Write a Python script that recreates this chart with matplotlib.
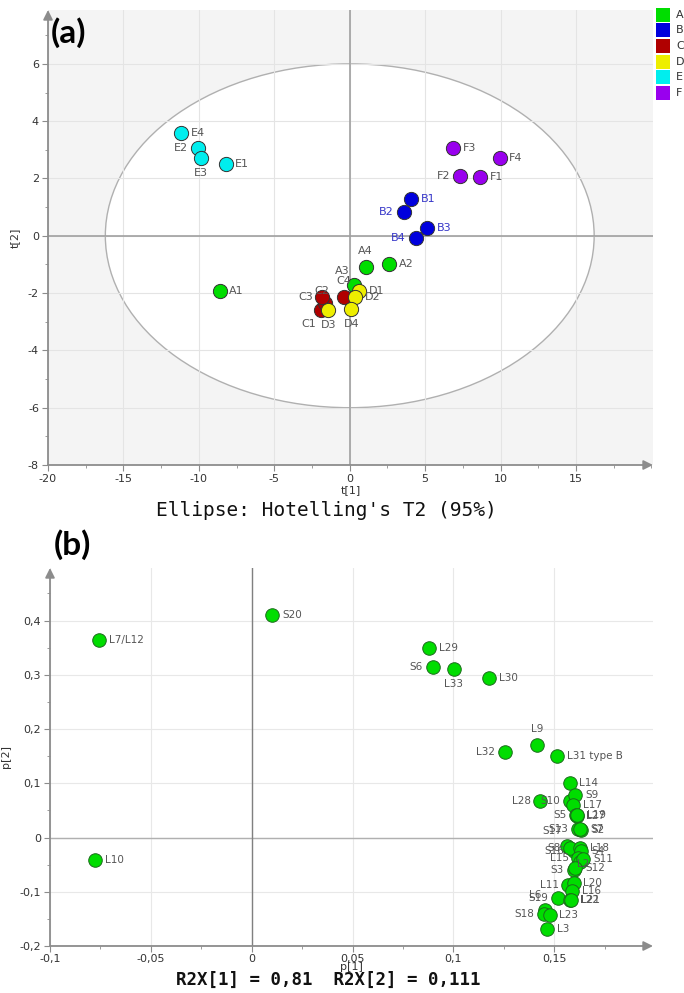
import matplotlib
matplotlib.use('Agg')
import matplotlib.pyplot as plt
from matplotlib.patches import Ellipse, Rectangle
from matplotlib.ticker import MultipleLocator, FuncFormatter, FixedLocator
import numpy as np

plt.rcParams['axes.unicode_minus'] = False
plt.rcParams['font.family'] = ['DejaVu Sans']

# ---------------- Panel (a): scores ----------------
groups = ['A', 'B', 'C', 'D', 'E', 'F']
group_colors = ['#00dd00', '#0000dd', '#b00000', '#eeee00', '#00eeee', '#9900ee']

score_labels = ['A1', 'A2', 'A3', 'A4',
                'B1', 'B2', 'B3', 'B4',
                'C1', 'C2', 'C3', 'C4',
                'D1', 'D2', 'D3', 'D4',
                'E1', 'E2', 'E3', 'E4',
                'F1', 'F2', 'F3', 'F4']
score_t1 = [-8.63, 2.61, 0.29, 1.06,
            4.05, 3.58, 5.15, 4.38,
            -1.88, -1.66, -1.81, -0.38,
            0.60, 0.33, -1.41, 0.11,
            -8.23, -10.09, -9.87, -11.17,
            8.63, 7.32, 6.86, 9.93]
score_t2 = [-1.92, -0.99, -1.73, -1.08,
            1.29, 0.84, 0.26, -0.07,
            -2.58, -2.35, -2.14, -2.14,
            -1.94, -2.14, -2.60, -2.56,
            2.49, 3.08, 2.70, 3.58,
            2.06, 2.08, 3.06, 2.73]

ellipse_a = 16.2   # Hotelling T2 95% semi-axes
ellipse_b = 6.0

t1_ticks = [-20, -15, -10, -5, 0, 5, 10, 15]
t2_ticks = [-8, -6, -4, -2, 0, 2, 4, 6]

# ---------------- Panel (b): loadings ----------------
loading_labels = ['L7/L12', 'S20', 'L29', 'S6', 'L33', 'L30', 'L32', 'L9', 'L31 type B',
                  'L14', 'L28', 'S10', 'S9', 'L17', 'S5', 'L27', 'L19',
                  'S13', 'S2', 'S7', 'S17', 'S16', 'S8', 'L18', 'S4',
                  'L15', 'L2', 'S11', 'S3', 'S12', 'L11', 'L20', 'L16',
                  'S19', 'L22', 'L21', 'L6', 'S18', 'L23', 'L3', 'L10']
loading_p1 = [-0.0756, 0.0102, 0.0880, 0.0898, 0.1002, 0.1176, 0.1257, 0.1414, 0.1513,
              0.1576, 0.1431, 0.1579, 0.1604, 0.1593, 0.1609, 0.1612, 0.1615,
              0.1620, 0.1634, 0.1630, 0.1563, 0.1596, 0.1580, 0.1629, 0.1634,
              0.1620, 0.1629, 0.1645, 0.1596, 0.1604, 0.1571, 0.1596, 0.1588,
              0.1521, 0.1579, 0.1585, 0.1455, 0.1450, 0.1477, 0.1464, -0.0776]
loading_p2 = [0.364, 0.411, 0.350, 0.314, 0.311, 0.295, 0.157, 0.171, 0.151,
              0.101, 0.068, 0.068, 0.078, 0.060, 0.041, 0.040, 0.042,
              0.0165, 0.0135, 0.015, -0.015, -0.025, -0.020, -0.019, -0.025,
              -0.037, -0.046, -0.040, -0.060, -0.057, -0.0875, -0.083, -0.0985,
              -0.112, -0.116, -0.115, -0.133, -0.141, -0.1437, -0.169, -0.041]

p1_ticks = [-0.1, -0.05, 0, 0.05, 0.1, 0.15]
p2_ticks = [-0.2, -0.1, 0, 0.1, 0.2, 0.3, 0.4]

# label placement (style only): offsets in points
place_a = {'E2': 'L', 'E3': 'B', 'F2': 'L', 'B2': 'L', 'B4': 'L', 'A4': 'T', 'A3': 'TL',
           'C4': 'T', 'C2': 'TC', 'C3': 'L', 'C1': 'BL', 'D3': 'B', 'D4': 'B'}
place_b = {'S6': 'L', 'L33': 'B', 'L32': 'L', 'L9': 'T', 'L28': 'L', 'S10': 'L', 'S5': 'L',
           'S13': 'L', 'S17': 'TL', 'S16': 'L', 'S8': 'L', 'L15': 'L', 'S3': 'L',
           'L11': 'L', 'S19': 'L', 'L6': 'TL', 'S18': 'L', 'L2': 'C'}
offsets = {'R': (7, 0, 'left', 'center'), 'L': (-7, 0, 'right', 'center'),
           'T': (0, 8, 'center', 'bottom'), 'B': (0, -7, 'center', 'top'),
           'TL': (-3, 7, 'right', 'bottom'), 'BL': (-4, -7, 'right', 'top'),
           'TC': (-2, 5, 'center', 'bottom'), 'C': (2, -1, 'center', 'center')}

W, H = 684, 993
fig = plt.figure(figsize=(W / 100, H / 100), dpi=100)

tick_col = '#8c8c8c'
txt_col = '#333333'


def style_axes(ax):
    for s in ax.spines.values():
        s.set_visible(False)
    ax.tick_params(which='both', direction='out', color=tick_col, labelcolor=txt_col,
                   labelsize=8, top=False, right=False, pad=2.5)
    ax.tick_params(which='major', length=4)
    ax.tick_params(which='minor', length=2.5)
    for xy in [((0, 1), (0, 0)), ((1, 0), (0, 0))]:
        ax.annotate('', xy=xy[0], xytext=xy[1], xycoords='axes fraction',
                    arrowprops=dict(arrowstyle='-|>', color=tick_col, lw=1.3,
                                    mutation_scale=14, shrinkA=0, shrinkB=0),
                    annotation_clip=False, zorder=5)


# ---------- top axes ----------
ax1 = fig.add_axes([48 / W, 1 - 465 / H, (653 - 48) / W, (465 - 10) / H])
ax1.set_facecolor('#f4f4f4')
ax1.set_xlim(-20, 20.1)
ax1.set_ylim(-8, 7.88)
ax1.xaxis.set_major_locator(FixedLocator(t1_ticks))
ax1.xaxis.set_minor_locator(MultipleLocator(2.5))
ax1.yaxis.set_major_locator(FixedLocator(t2_ticks))
ax1.yaxis.set_minor_locator(MultipleLocator(1))
ax1.set_axisbelow(True)
ax1.grid(True, which='major', color='#e4e4e4', lw=0.8)
style_axes(ax1)
ell = Ellipse((0, 0), 2 * ellipse_a, 2 * ellipse_b, facecolor='white',
              edgecolor='#b0b0b0', lw=1.0, zorder=0.3)
ax1.add_patch(ell)
ax1.axhline(0, color='#a0a0a0', lw=1.2, zorder=1)
ax1.axvline(0, color='#a0a0a0', lw=1.2, zorder=1)
ax1.set_xlabel('t[1]', fontsize=8, color=txt_col, labelpad=1)
ax1.set_ylabel('t[2]', fontsize=8, color=txt_col, labelpad=6)

for lab, x, y in zip(score_labels, score_t1, score_t2):
    gi = groups.index(lab[0])
    c = group_colors[gi]
    ax1.scatter([x], [y], s=105, color=c, edgecolors='#333333', linewidths=0.7, zorder=3)
    dx, dy, ha, va = offsets[place_a.get(lab, 'R')]
    tc = '#3535c8' if lab[0] == 'B' else '#555555'
    ax1.annotate(lab, (x, y), xytext=(dx, dy), textcoords='offset points', ha=ha, va=va,
                 fontsize=8, color=tc, zorder=4)

ax1.text(0.005, 0.985, '(a)', transform=ax1.transAxes, fontsize=24, fontweight='bold',
         family='Lato', ha='left', va='top')

# legend
for i, (g, c) in enumerate(zip(groups, group_colors)):
    yc = 14.5 + i * 15.7
    fig.patches.append(Rectangle((656 / W, 1 - (yc + 7) / H), 14 / W, 14 / H,
                                 transform=fig.transFigure, facecolor=c, edgecolor='none'))
    fig.text(676 / W, 1 - yc / H, g, fontsize=8, color=txt_col, va='center', ha='left')

fig.text(326 / W, 1 - 510 / H, "Ellipse: Hotelling's T2 (95%)", family='DejaVu Sans Mono',
         fontsize=14, ha='center', va='center', color='#111111')

# ---------- bottom axes ----------
ax2 = fig.add_axes([50 / W, 1 - 946 / H, (653 - 50) / W, (946 - 568) / H])
ax2.set_xlim(-0.1, 0.199)
ax2.set_ylim(-0.2, 0.497)
ax2.xaxis.set_major_locator(FixedLocator(p1_ticks))
ax2.xaxis.set_minor_locator(MultipleLocator(0.025))
ax2.yaxis.set_major_locator(FixedLocator(p2_ticks))
ax2.yaxis.set_minor_locator(MultipleLocator(0.05))
fmt = FuncFormatter(lambda v, p: ('%g' % round(v, 4)).replace('.', ','))
ax2.xaxis.set_major_formatter(fmt)
ax2.yaxis.set_major_formatter(fmt)
ax2.set_axisbelow(True)
ax2.grid(True, which='major', color='#e8e8e8', lw=0.8)
style_axes(ax2)
ax2.tick_params(axis='x', pad=1.5)
ax2.axhline(0, color='#b0b0b0', lw=1.0, zorder=1)
ax2.axvline(0, color='#808080', lw=1.0, zorder=1)
ax2.set_xlabel('p[1]', fontsize=8, color=txt_col, labelpad=-1)
ax2.set_ylabel('p[2]', fontsize=8, color=txt_col, labelpad=6)

ax2.scatter(loading_p1, loading_p2, s=95, color='#00dd00', edgecolors='#1c6b1c',
            linewidths=0.7, zorder=3)
for lab, x, y in zip(loading_labels, loading_p1, loading_p2):
    dx, dy, ha, va = offsets[place_b.get(lab, 'R')]
    ax2.annotate(lab, (x, y), xytext=(dx, dy), textcoords='offset points', ha=ha, va=va,
                 fontsize=7.5, color='#555555', zorder=4)

fig.text(0.005 + 50 / W, 1 - 545 / H, '(b)', fontsize=24, fontweight='bold',
         family='Lato', ha='left', va='center')

fig.text(328 / W, 4 / H, 'R2X[1] = 0,81  R2X[2] = 0,111', family='DejaVu Sans Mono',
         fontsize=12.5, ha='center', va='bottom', color='#111111', fontweight='bold')

fig.savefig('out.png', dpi=100)
